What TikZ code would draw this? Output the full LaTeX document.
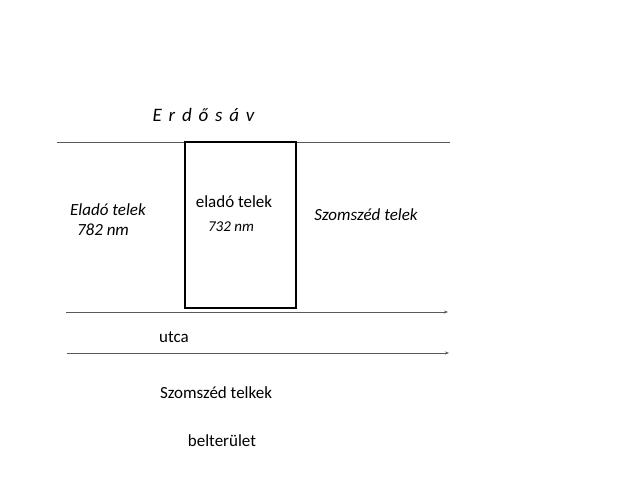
\documentclass[tikz,border=0pt]{standalone}
\usepackage{fontspec}
\setmainfont{Carlito}
\usetikzlibrary{arrows.meta}
\newcommand\lgap{\hspace{6.8pt}}
\tikzset{
  lbl/.style={inner sep=0pt, font=\fontsize{17}{20}\selectfont},
  ilbl/.style={lbl, font=\fontsize{17}{20}\selectfont\itshape},
  border/.style={draw=black!65, line width=1pt},
  road/.style={border, -{Stealth[length=4pt,width=3pt]}},
  plot/.style={draw=black, line width=2pt}
}
\begin{document}
\begin{tikzpicture}[x=1pt,y=-1pt]
\useasboundingbox (0,0) rectangle (640,480);
\fill[white] (0,0) rectangle (640,480);
% boundary lines
\draw[border] (57,142) -- (450,142);
\draw[road] (66,312) -- (448,312);
\draw[road] (67,353) -- (449,353);
% plot
\draw[plot] (185,142) rectangle (295.5,307.5);
% labels
\node[ilbl, font=\fontsize{19}{22}\selectfont\itshape] (erdo) at (203.5,115) {E\lgap r\lgap d\lgap ő\lgap s\lgap á\lgap v};
\node[ilbl] (elado1) at (108,210) {Eladó telek};
\node[ilbl] (nm1) at (103,230) {782 nm};
\node[lbl] (elado2) at (234,202) {eladó telek};
\node[ilbl, font=\fontsize{15}{18}\selectfont\itshape] (nm2) at (231,227) {732 nm};
\node[ilbl] (szomsz) at (366,215) {Szomszéd telek};
\node[lbl] (utca) at (174,337) {utca};
\node[lbl] (szomszk) at (216,393) {Szomszéd telkek};
\node[lbl] (bel) at (222,441) {belterület};
\end{tikzpicture}
\end{document}
